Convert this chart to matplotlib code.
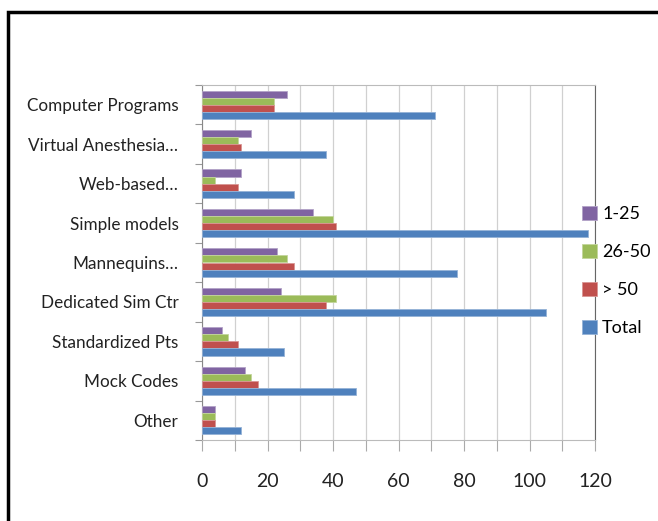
import matplotlib

matplotlib.use("Agg")
import matplotlib.pyplot as plt
import numpy as np
from matplotlib.patches import Rectangle
from matplotlib.ticker import MultipleLocator

categories = [
    "Computer Programs",
    "Virtual Anesthesia\u2026",
    "Web-based\u2026",
    "Simple models",
    "Mannequins\u2026",
    "Dedicated Sim Ctr",
    "Standardized Pts",
    "Mock Codes",
    "Other",
]
series_names = ["1-25", "26-50", "> 50", "Total"]
vals_1_25 = [26, 15, 12, 34, 23, 24, 6, 13, 4]
vals_26_50 = [22, 11, 4, 40, 26, 41, 8, 15, 4]
vals_gt_50 = [22, 12, 11, 41, 28, 38, 11, 17, 4]
vals_total = [71, 38, 28, 118, 78, 105, 25, 47, 12]

COLORS = ["#8064A2", "#9BBB59", "#C0504D", "#4F81BD"]
EDGES = ["#B3A2C7", "#C3D69B", "#D99694", "#95B3D7"]

plt.rcParams["font.family"] = ["Lato", "DejaVu Sans"]

fig = plt.figure(figsize=(6.58, 5.21), dpi=100)
ax = fig.add_axes([202 / 658, 1 - 440 / 521, 393 / 658, 355 / 521])

y = np.arange(len(categories))
h = 0.18
series = [vals_1_25, vals_26_50, vals_gt_50, vals_total]
for i, (vals, name) in enumerate(zip(series, series_names)):
    offset = (i - 1.5) * h
    ax.barh(y + offset, vals, height=h, color=COLORS[i], edgecolor=EDGES[i],
            linewidth=0.6, label=name, zorder=3)

ax.set_ylim(len(categories) - 0.5, -0.5)
ax.set_xlim(0, 120)
ax.set_yticks(y)
ax.set_yticklabels(categories, fontsize=12.3, color="#222222")
ax.set_yticks(np.arange(len(categories) + 1) - 0.5, minor=True)
ax.tick_params(axis="y", which="major", length=0, pad=17)
ax.tick_params(axis="y", which="minor", length=5, color="#999999", width=0.8)

ax.xaxis.set_major_locator(MultipleLocator(20))
ax.xaxis.set_minor_locator(MultipleLocator(10))
ax.tick_params(axis="x", which="major", labelsize=14, length=8, color="#AAAAAA",
               width=0.8, pad=16, labelcolor="#222222")
ax.tick_params(axis="x", which="minor", length=8, color="#AAAAAA", width=0.8)
ax.grid(axis="x", which="both", color="#D0D0D0", linewidth=0.9, zorder=0)

for side in ["top", "bottom"]:
    ax.spines[side].set_color("#BBBBBB")
ax.spines["left"].set_color("#888888")
ax.spines["right"].set_color("#666666")

leg = fig.legend(loc="upper left", bbox_to_anchor=(566 / 658, 1 - 190 / 521),
                 frameon=False, fontsize=13, handlelength=0.8, handleheight=0.8,
                 labelspacing=1.2, handletextpad=0.3)

fig.patches.append(Rectangle((8 / 658, -0.1), 1.2, 1 - 11.5 / 521 + 0.1,
                             transform=fig.transFigure, fill=False,
                             edgecolor="black", linewidth=2.5))

fig.savefig("out.png", dpi=100)
